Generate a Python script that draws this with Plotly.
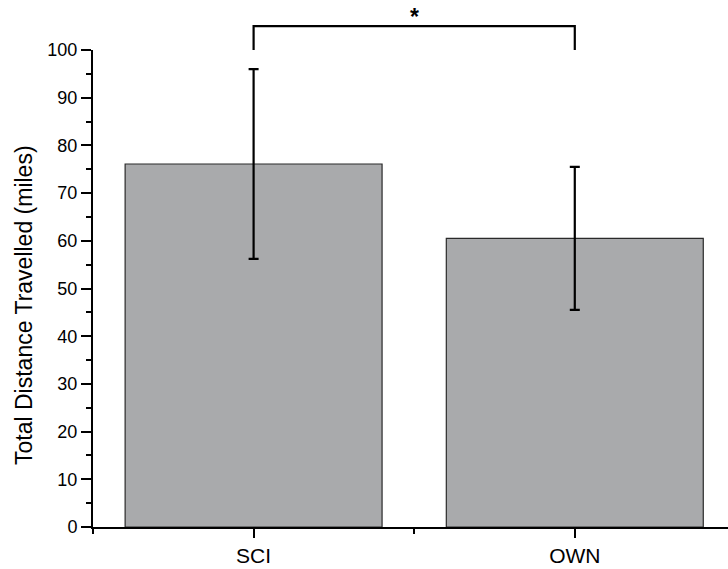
import plotly.graph_objects as go

categories = ["SCI", "OWN"]
means = [76.1, 60.5]
errors = [19.9, 15.0]
y_ticks = [0, 10, 20, 30, 40, 50, 60, 70, 80, 90, 100]
significance = "*"
y_title = "Total Distance Travelled (miles)"

x_pos = list(range(len(categories)))

fig = go.Figure()
fig.add_trace(go.Bar(
    x=x_pos, y=means, width=0.8,
    marker=dict(color="#a9aaac", line=dict(color="#2a2a2a", width=1.2)),
    error_y=dict(type="data", array=errors, visible=True, color="black",
                 thickness=2.2, width=5),
    showlegend=False,
))

# significance bracket
fig.add_shape(type="path", xref="x", yref="paper",
              path=f"M {x_pos[0]},1.0 L {x_pos[0]},1.05 L {x_pos[1]},1.05 L {x_pos[1]},1.0",
              line=dict(color="black", width=2.2))
fig.add_annotation(x=(x_pos[0] + x_pos[1]) / 2, y=1.070, xref="x", yref="paper",
                   text=f"<b>{significance}</b>", showarrow=False, yanchor="middle",
                   font=dict(size=23, color="black"))

# y-axis title (placed as annotation to match its slightly lowered position)
fig.add_annotation(x=-0.109, y=0.465, xref="paper", yref="paper",
                   text=y_title, textangle=-90, showarrow=False,
                   xanchor="center", yanchor="middle",
                   font=dict(size=23, color="black"))

fig.update_layout(
    width=728, height=569,
    margin=dict(l=93, r=0, t=50, b=42),
    plot_bgcolor="white", paper_bgcolor="white",
    font=dict(family="Liberation Sans, Arial, sans-serif", color="black"),
    bargap=0.2,
)
fig.update_xaxes(
    range=[-0.5, 1.477], tickmode="array", tickvals=x_pos, ticktext=categories,
    ticks="outside", ticklen=9, tickwidth=2, tickcolor="black",
    showline=True, linecolor="black", linewidth=2, showgrid=False, zeroline=False,
    tickfont=dict(size=21),
    minor=dict(tickmode="array", tickvals=[-0.5, 0.5, 1.5], ticks="outside",
               ticklen=5, tickwidth=2, tickcolor="black"),
)
fig.update_yaxes(
    range=[0, 100], tickvals=y_ticks,
    ticks="outside", ticklen=10, tickwidth=2, tickcolor="black",
    showline=True, linecolor="black", linewidth=2, showgrid=False, zeroline=False,
    tickfont=dict(size=18),
    minor=dict(dtick=5, ticks="outside", ticklen=5, tickwidth=2, tickcolor="black"),
)

# remove the page's default 8px body margin so the figure fills the window
fig.write_html("out.html", config={"displayModeBar": False},
               post_script="document.body.style.margin='0';")
